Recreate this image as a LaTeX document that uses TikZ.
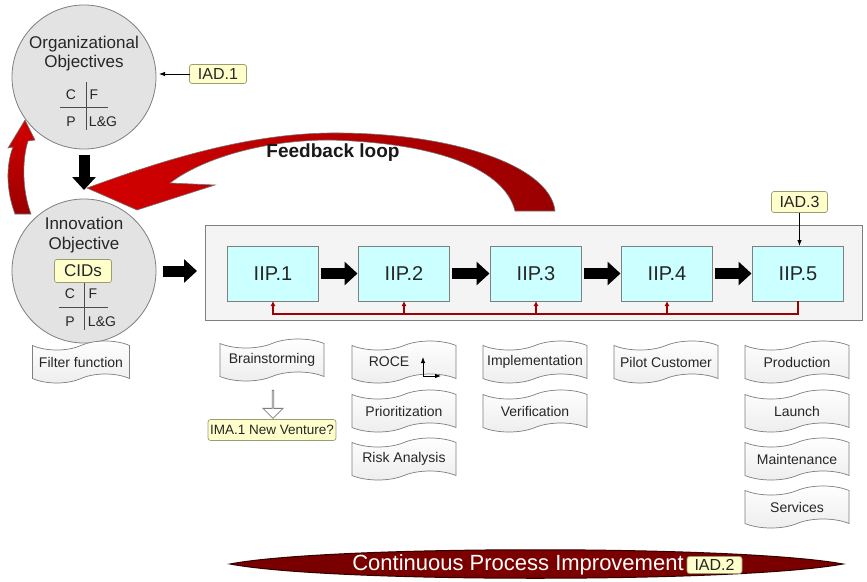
\documentclass[tikz,border=0pt]{standalone}
\usepackage{fontspec}
\setmainfont{Liberation Sans}
\usetikzlibrary{arrows.meta,shapes.symbols,shapes.arrows,calc}

\definecolor{circfill}{HTML}{E3E3E3}
\definecolor{edgegray}{HTML}{7F7F7F}
\definecolor{notefill}{HTML}{FFFFCC}
\definecolor{noteedge}{HTML}{9C9C70}
\definecolor{stepfill}{HTML}{CCFFFF}
\definecolor{panelfill}{HTML}{F4F4F4}
\definecolor{loopred}{HTML}{A00000}
\definecolor{arcbright}{HTML}{D40000}
\definecolor{arcdark}{HTML}{9A0000}
\definecolor{cpidark}{HTML}{7A0000}

\newcommand{\fsz}[2]{\fontsize{#1}{#2}\selectfont}

\begin{document}
\begin{tikzpicture}[x=1pt,y=-1pt,
  every node/.style={inner sep=0pt, outer sep=0pt, text=black!85},
  objcircle/.style={circle, draw=edgegray, line width=0.8pt, fill=circfill, minimum size=144pt},
  ctext/.style={font=\fsz{17}{19}, align=center},
  qlabel/.style={font=\fsz{14}{16}},
  quad/.style={draw=black!70, line width=0.8pt},
  note/.style={draw=noteedge, fill=notefill, rounded corners=2.5pt, inner xsep=2pt,
    line width=0.7pt, font=\fsz{16}{18}},
  stepbox/.style={draw=edgegray, fill=stepfill, line width=0.8pt, minimum width=91pt,
    minimum height=55pt, font=\fsz{20}{22}},
  panel/.style={draw=edgegray, fill=panelfill, line width=1pt},
  blockarrow/.style={line width=11pt, black, -{Triangle[length=13pt,width=23pt]},
    shorten <=2pt, shorten >=1pt},
  ptr/.style={black, line width=0.8pt, -{Latex[length=6pt,width=4.5pt]}},
  fbline/.style={loopred, line width=1.5pt},
  fbtip/.style={fbline, -{Latex[length=5pt,width=5pt]}},
  banner/.style={tape, draw=edgegray, line width=0.7pt, top color=white, bottom color=gray!14,
    minimum width=104pt, minimum height=42pt, tape bend height=9pt, font=\fsz{14}{16}},
  hollowarrow/.style={single arrow, shape border rotate=270, draw=edgegray, fill=white,
    line width=0.8pt, minimum width=20pt, minimum height=28pt, single arrow head extend=5pt,
    single arrow head indent=0pt},
]
\fill[white] (0,0) rectangle (867,581);
\useasboundingbox (0,0) rectangle (867,581);

% curved feedback arrow (tapered band with head)
\path[left color=arcbright, right color=arcdark, draw=black!55, line width=0.6pt]
  (87,188) .. controls (150,165) and (240,134) .. (330,133)
  .. controls (450,132) and (550,165) .. (555,211)
  -- (515,211) .. controls (505,170) and (440,143) .. (330,140)
  .. controls (260,140) and (200,160) .. (170,183)
  -- (215,185) -- (137,210) -- cycle;

% small return arrow on the left
\path[top color=arcbright, bottom color=arcdark, draw=black!55, line width=0.6pt]
  (15,214) .. controls (6,190) and (6,165) .. (13,147) -- (8,148) -- (25,120)
  -- (35,140) -- (28,141) .. controls (22,160) and (22,190) .. (31,214) -- cycle;

\node[font=\bfseries\fsz{19}{21}, text=black!90] (fbtext) at (333,153) {Feedback loop};

% organizational objectives
\node[objcircle] (org) at (84,77) {};
\node[ctext] (orgtitle) at (84,54) {Organizational\\Objectives};
\draw[quad] (86,82) -- (86,130) (60,107) -- (108,107);
\node[qlabel] (orgC) at (71,95) {C};
\node[qlabel] (orgF) at (94,95) {F};
\node[qlabel] (orgP) at (71,122) {P};
\node[qlabel] (orgL) at (103,122) {L\&G};
\node[note, minimum width=57pt, minimum height=19pt] (iad1) at (218,74) {IAD.1};
\draw[ptr, shorten >=3pt] (iad1.west) -- (org.east |- iad1.west);

% innovation objective
\node[objcircle] (inn) at (84,271) {};
\node[ctext] (inntitle) at (84,235) {Innovation\\[1pt]Objective};
\node[note, font=\fsz{17}{19}, minimum width=57pt, minimum height=23pt] (cids) at (83,271) {CIDs};
\draw[quad] (84,283) -- (84,330) (59,307) -- (108,307);
\node[qlabel] (innC) at (70,294) {C};
\node[qlabel] (innF) at (93,294) {F};
\node[qlabel] (innP) at (70,322) {P};
\node[qlabel] (innL) at (102,322) {L\&G};
\node[banner, minimum width=97pt] (filter) at (81,362) {Filter function};

\draw[blockarrow, shorten <=6pt, shorten >=9pt] (org) -- (inn);

% process panel
\node[panel, minimum width=657pt, minimum height=95pt] (panel) at (533.5,272.5) {};
\draw[blockarrow, shorten <=7pt, shorten >=8pt] (inn.east) -- (inn.east -| panel.west);

\node[stepbox] (iip1) at (273,273.5) {IIP.1};
\node[stepbox] (iip2) at (404,273.5) {IIP.2};
\node[stepbox] (iip3) at (536,273.5) {IIP.3};
\node[stepbox] (iip4) at (667,273.5) {IIP.4};
\node[stepbox] (iip5) at (798,273.5) {IIP.5};
\draw[blockarrow] (iip1) -- (iip2);
\draw[blockarrow] (iip2) -- (iip3);
\draw[blockarrow] (iip3) -- (iip4);
\draw[blockarrow] (iip4) -- (iip5);

% feedback line under the steps
\coordinate (fbL) at (273,314);
\draw[fbtip] (iip5.south) -- (iip5.south |- fbL) -- (fbL) -- (iip1.south);
\draw[fbtip] (iip2.south |- fbL) -- (iip2.south);
\draw[fbtip] (iip3.south |- fbL) -- (iip3.south);
\draw[fbtip] (iip4.south |- fbL) -- (iip4.south);

\node[note, minimum width=56pt, minimum height=21pt] (iad3) at (799.5,202) {IAD.3};
\draw[ptr] (iad3.south) -- (iad3.south |- iip5.north);

% activities per step
\node[banner] (brain) at (272,360) {Brainstorming};
\node[hollowarrow] (down) at (273,404) {};
\node[note, font=\fsz{13.5}{15}, minimum height=21pt] (ima) at (272,430) {IMA.1 New Venture?};

\node[banner] (roce) at (404,362) {ROCE\rule{30pt}{0pt}};
\coordinate (roceaxis) at ($(roce.center)+(19,14)$);
\draw[ptr] (roceaxis) -- ++(0,-19);
\draw[ptr] (roceaxis) -- ++(18,0);
\node[banner] (prio) at (404,411) {Prioritization};
\node[banner] (risk) at (404,459) {Risk Analysis};

\node[banner] (impl) at (535,362) {Implementation};
\node[banner] (verif) at (535,411) {Verification};

\node[banner] (pilot) at (666,362) {Pilot Customer};

\node[banner] (prod) at (797,362) {Production};
\node[banner] (launch) at (797,411) {Launch};
\node[banner] (maint) at (797,459) {Maintenance};
\node[banner] (serv) at (797,507) {Services};

% continuous improvement lens
\path[fill=cpidark, draw=black!60!cpidark, line width=1pt]
  (230,564) .. controls (330,545) and (740,545) .. (843,564)
  .. controls (740,583) and (330,583) .. (230,564) -- cycle;
\node[font=\fsz{22}{24}, text=white] (cpi) at (518,565) {Continuous Process Improvement};
\node[note, minimum width=55pt, minimum height=17pt] (iad2) at (714.5,565) {IAD.2};
\end{tikzpicture}
\end{document}
